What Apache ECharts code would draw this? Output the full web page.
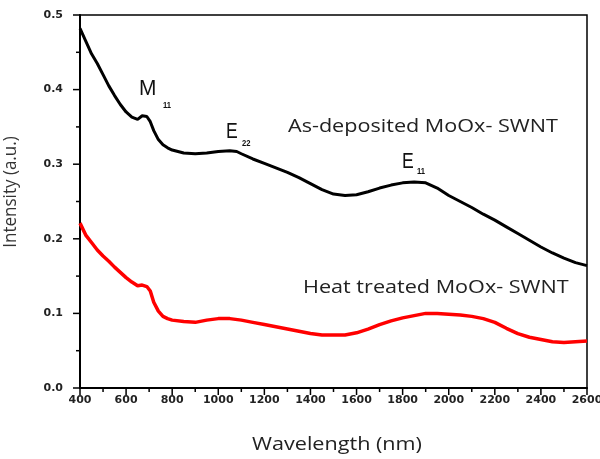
<!DOCTYPE html>
<html>
<head>
<meta charset="utf-8">
<script src="https://cdn.jsdelivr.net/npm/echarts@6/dist/echarts.min.js"></script>
<style>
  html, body { margin: 0; padding: 0; background: #fff; }
  #chart { width: 600px; height: 459px; }
</style>
</head>
<body>
<div id="chart"></div>
<script>
// wavelength (nm) and intensity (a.u.)
const wlBlack = [400, 425, 450, 475, 500, 525, 550, 575, 600, 625, 650, 670, 690, 705, 720, 740, 760, 780, 800, 850, 900, 950, 1000, 1050, 1080, 1100, 1150, 1200, 1250, 1300, 1350, 1400, 1450, 1500, 1550, 1600, 1650, 1700, 1750, 1800, 1850, 1900, 1950, 2000, 2050, 2100, 2150, 2200, 2250, 2300, 2350, 2400, 2450, 2500, 2550, 2600];
const asDeposited = [0.482, 0.465, 0.448, 0.435, 0.420, 0.405, 0.392, 0.380, 0.370, 0.363, 0.360, 0.365, 0.364, 0.357, 0.345, 0.333, 0.326, 0.322, 0.319, 0.315, 0.314, 0.315, 0.317, 0.318, 0.317, 0.314, 0.307, 0.301, 0.295, 0.289, 0.282, 0.274, 0.266, 0.260, 0.258, 0.259, 0.263, 0.268, 0.272, 0.275, 0.276, 0.275, 0.268, 0.258, 0.250, 0.242, 0.233, 0.225, 0.216, 0.207, 0.198, 0.189, 0.181, 0.174, 0.168, 0.164];

const wlRed = [400, 425, 450, 475, 500, 525, 550, 575, 600, 625, 650, 670, 690, 705, 720, 740, 760, 780, 800, 850, 900, 950, 1000, 1050, 1100, 1150, 1200, 1250, 1300, 1350, 1400, 1450, 1500, 1550, 1600, 1650, 1700, 1750, 1800, 1850, 1900, 1950, 2000, 2050, 2100, 2150, 2200, 2250, 2300, 2350, 2400, 2450, 2500, 2550, 2600];
const heatTreated = [0.221, 0.205, 0.195, 0.185, 0.177, 0.170, 0.162, 0.155, 0.148, 0.142, 0.137, 0.138, 0.136, 0.130, 0.115, 0.103, 0.096, 0.093, 0.091, 0.089, 0.088, 0.091, 0.093, 0.093, 0.091, 0.088, 0.085, 0.082, 0.079, 0.076, 0.073, 0.071, 0.071, 0.071, 0.074, 0.079, 0.085, 0.090, 0.094, 0.097, 0.100, 0.100, 0.099, 0.098, 0.096, 0.093, 0.088, 0.080, 0.073, 0.068, 0.065, 0.062, 0.061, 0.062, 0.063];

// tick positions
const xMajorTicks = [400, 600, 800, 1000, 1200, 1400, 1600, 1800, 2000, 2200, 2400, 2600];
const xMinorTicks = [500, 700, 900, 1100, 1300, 1500, 1700, 1900, 2100, 2300, 2500];
const yMajorTicks = [0, 0.1, 0.2, 0.3, 0.4, 0.5];
const yMinorTicks = [0.05, 0.15, 0.25, 0.35, 0.45];

function pairs(xs, ys) {
    return xs.map((x, i) => [x, ys[i]]);
}

const tickFont = {
    color: "#222",
    fontFamily: "DejaVu Sans",
    fontWeight: "bold",
    fontSize: 11
};
const labelFont = "Open Sans";
const peakFont = "Liberation Sans";

// plain label, stretched sideways like the source picture
function label(text, x, y, size, align) {
    return {
        type: "text", x: x, y: y, scaleX: 1.2,
        style: {text: text, fontFamily: labelFont, fontSize: size, fill: "#222",
            textAlign: align || "left", textVerticalAlign: "middle"}
    };
}
// peak name with its subscript
function peak(letter, sub, x, y, dx, dy, sx) {
    return [
        {type: "text", x: x, y: y, scaleX: sx,
            style: {text: letter, fontFamily: peakFont, fontSize: 22, fill: "#111",
                textAlign: "left", textVerticalAlign: "middle"}},
        {type: "text", x: x + dx, y: y + dy, scaleX: 0.85,
            style: {text: sub, fontFamily: peakFont, fontWeight: "bold", fontSize: 9, fill: "#111",
                textAlign: "left", textVerticalAlign: "middle"}}
    ];
}

// axis line and labels
function mainAxis(min, max, step, margin, fmt) {
    return {
        type: "value", min: min, max: max, interval: step,
        axisLine: {show: true, onZero: false, lineStyle: {color: "#000", width: 2}},
        axisTick: {show: false},
        splitLine: {show: false},
        axisLabel: Object.assign({margin: margin, formatter: fmt}, tickFont)
    };
}

// outward tick marks, placed through the axis scales
function tickSeries(values, onX, len) {
    return {
        type: "custom",
        silent: true,
        clip: false,
        z: 5,
        data: values.map(v => onX ? [v, 0] : [400, v]),
        renderItem: function (params, api) {
            let p = api.coord([api.value(0), api.value(1)]);
            let shape = onX
                ? {x1: p[0], y1: p[1], x2: p[0], y2: p[1] + len}
                : {x1: p[0] - len, y1: p[1], x2: p[0], y2: p[1]};
            return {type: "line", shape: shape, style: {stroke: "#000", lineWidth: 1.5}};
        }
    };
}

let option = {
    animation: false,
    grid: {
        left: 80, right: 13, top: 15, bottom: 71,
        outerBoundsMode: "none",
        show: true, borderColor: "#000", borderWidth: 1.5
    },
    xAxis: mainAxis(400, 2600, 200, 7, v => String(v)),
    yAxis: mainAxis(0, 0.5, 0.1, 17, v => v.toFixed(1)),
    series: [
        {
            name: "As-deposited MoOx- SWNT",
            type: "line",
            data: pairs(wlBlack, asDeposited),
            showSymbol: false,
            lineStyle: {color: "#000", width: 3},
            itemStyle: {color: "#000"}
        },
        {
            name: "Heat treated MoOx- SWNT",
            type: "line",
            data: pairs(wlRed, heatTreated),
            showSymbol: false,
            lineStyle: {color: "#ff0000", width: 3.5},
            itemStyle: {color: "#ff0000"}
        },
        tickSeries(xMajorTicks, true, 7),
        tickSeries(xMinorTicks, true, 4),
        tickSeries(yMajorTicks, false, 7),
        tickSeries(yMinorTicks, false, 4)
    ],
    graphic: [].concat(
        peak("M", "11", 139, 89, 24, 17, 0.95),
        peak("E", "22", 226, 132, 16, 12, 0.8),
        peak("E", "11", 402, 162, 15, 10, 0.8),
        [
            label("As-deposited MoOx- SWNT", 288, 127, 18),
            label("Heat treated MoOx- SWNT", 303, 288, 18),
            label("Wavelength (nm)", 337, 445, 18, "center"),
            {
                type: "text", x: 11, y: 192, rotation: Math.PI / 2, scaleY: 1.1,
                style: {text: "Intensity (a.u.)", fontFamily: labelFont, fontSize: 17, fill: "#333",
                    textAlign: "center", textVerticalAlign: "middle"}
            }
        ]
    )
};

echarts.init(document.getElementById("chart")).setOption(option);
</script>
</body>
</html>
